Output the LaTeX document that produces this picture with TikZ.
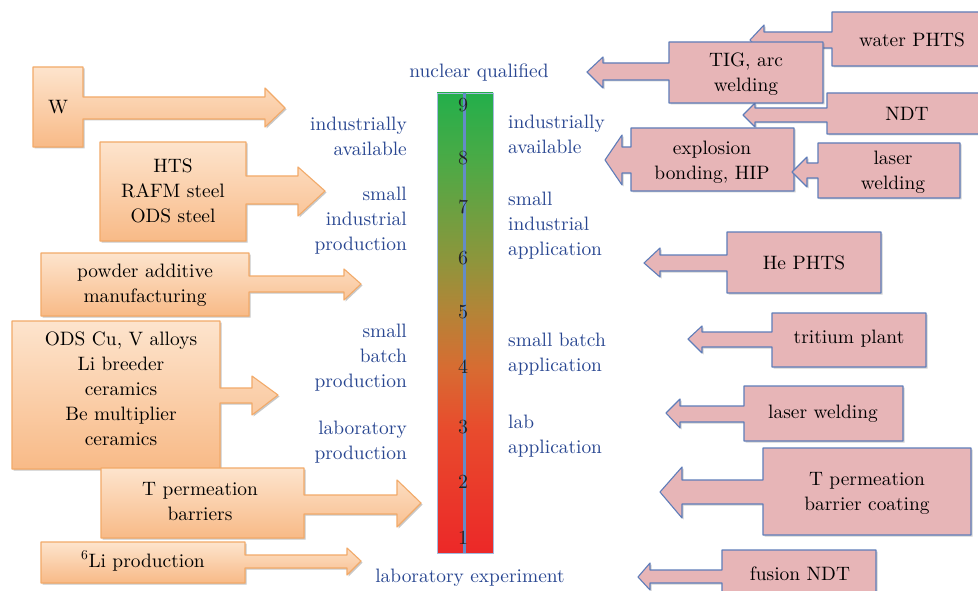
\documentclass[tikz,border=0pt]{standalone}
\usepackage{fontspec}
\setmainfont{lmroman10-regular.otf}
\usetikzlibrary{shadows}
\definecolor{lbl}{RGB}{40,70,145}
\definecolor{otop}{RGB}{253,228,205}
\definecolor{obot}{RGB}{248,186,135}
\definecolor{oedge}{RGB}{242,170,105}
\definecolor{pfill}{RGB}{231,181,183}
\definecolor{pedge}{RGB}{95,125,185}
\definecolor{bgreen}{RGB}{35,175,75}
\definecolor{beight}{RGB}{75,170,70}
\definecolor{bsix}{RGB}{140,150,60}
\definecolor{bfive}{RGB}{180,132,55}
\definecolor{bfour}{RGB}{215,108,50}
\definecolor{bthree}{RGB}{232,76,45}
\definecolor{bred}{RGB}{236,40,40}
\definecolor{barline}{RGB}{100,140,200}
\definecolor{numcol}{RGB}{35,35,35}
\pgfdeclareverticalshading{trlshade}{100bp}{color(0bp)=(bred); color(25bp)=(bred); color(38.7bp)=(bthree); color(45.2bp)=(bfour); color(51.2bp)=(bfive); color(57.1bp)=(bsix); color(67.7bp)=(beight); color(75bp)=(bgreen); color(100bp)=(bgreen)}
\tikzset{
  txt/.style={font=\fontsize{19.4}{25}\selectfont, inner sep=0pt, align=center},
  lab/.style={txt, text=lbl},
  num/.style={font=\fontsize{20}{25}\selectfont, inner sep=0pt, text=numcol},
  ocall/.style={top color=otop, bottom color=obot, draw=oedge, line width=1.1pt, line join=round,
     drop shadow={shadow xshift=1.5pt, shadow yshift=-1.5pt, opacity=0.3, fill=black!70}},
  pcall/.style={fill=pfill, draw=pedge, line width=1.1pt, line join=round,
     drop shadow={shadow xshift=1.5pt, shadow yshift=-1.5pt, opacity=0.25, fill=black!70}},
}
\begin{document}
\begin{tikzpicture}[x=1pt, y=-1pt]
\useasboundingbox (0,0) rectangle (978,591);
\fill[white] (0,0) rectangle (978,591);

% ---------- central bar ----------
\path[shading=trlshade, draw=barline!60, line width=0.6pt] (437,93) rectangle (493,553);
\coordinate (ltop) at (464,93);
\coordinate (lbot) at (464,553);
\draw[barline, line width=3pt] (ltop) -- (lbot);
\node[num] (n9) at (463,105) {9};
\node[num] (n8) at (463,158) {8};
\node[num] (n7) at (463,207) {7};
\node[num] (n6) at (463,258) {6};
\node[num] (n5) at (463,312) {5};
\node[num] (n4) at (463,367) {4};
\node[num] (n3) at (463,427) {3};
\node[num] (n2) at (463,482) {2};
\node[num] (n1) at (463,538) {1};

\node[lab] (top) at (479,73) {nuclear qualified};
\node[lab] (bottom) at (470,578) {laboratory experiment};

\node[lab, anchor=east, align=right] (l9) at (407,136) {industrially\\available};
\node[lab, anchor=east, align=right] (l7) at (407,221) {small\\industrial\\production};
\node[lab, anchor=east, align=right] (l4) at (407,358) {small\\batch\\production};
\node[lab, anchor=east, align=right] (l3) at (407,442) {laboratory\\production};

\node[lab, anchor=west, align=left] (r9) at (508,134) {industrially\\available};
\node[lab, anchor=west, align=left] (r7) at (508,226) {small\\industrial\\application};
\node[lab, anchor=west, align=left] (r4) at (508,354) {small batch\\application};
\node[lab, anchor=west, align=left] (r3) at (508,436) {lab\\application};

% ---------- orange callouts (left) ----------
\path[ocall] (33,67) -- (83,67) -- (83,97) -- (265,97) -- (265,88) -- (285,108) -- (265,127) -- (265,119) -- (83,119) -- (83,147) -- (33,147) -- cycle;
\node[txt] (w) at (58,107) {W};

\path[ocall] (100,142) -- (246,142) -- (246,176) -- (298,176) -- (298,167) -- (325,191) -- (298,216) -- (298,204) -- (246,204) -- (246,241) -- (100,241) -- cycle;
\node[txt] (hts) at (173,191) {HTS\\RAFM steel\\ODS steel};

\path[ocall] (41,253) -- (249,253) -- (249,276) -- (344,276) -- (344,269) -- (361,284) -- (344,300) -- (344,292) -- (249,292) -- (249,316) -- (41,316) -- cycle;
\node[txt] (pam) at (145,285) {powder additive\\manufacturing};

\path[ocall] (12,321) -- (220,321) -- (220,388) -- (252,388) -- (252,376) -- (278,395) -- (252,415) -- (252,403) -- (220,403) -- (220,469) -- (12,469) -- cycle;
\node[txt] (ods) at (121,389) {ODS Cu, V alloys\\Li breeder\\ceramics\\Be multiplier\\ceramics};

\path[ocall] (101,468) -- (304,468) -- (304,495) -- (397,495) -- (397,480) -- (421,503) -- (397,527) -- (397,514) -- (304,514) -- (304,538) -- (101,538) -- cycle;
\node[txt] (tpb) at (200,502) {T permeation\\barriers};

\path[ocall] (41,542) -- (245,542) -- (245,555) -- (347,555) -- (347,548) -- (361,561) -- (347,575) -- (347,568) -- (245,568) -- (245,583) -- (41,583) -- cycle;
\node[txt] (li6) at (143,561) {\textsuperscript{6}Li production};

% ---------- pink callouts (right) ----------
\path[pcall] (832,12) -- (990,12) -- (990,66) -- (832,66) -- (832,48) -- (764,48) -- (764,55) -- (750,40) -- (764,25) -- (764,32) -- (832,32) -- cycle;
\node[txt] (water) at (912,40) {water PHTS};

\path[pcall] (827,93) -- (990,93) -- (990,134) -- (827,134) -- (827,122) -- (755,122) -- (755,127) -- (743,115) -- (755,103) -- (755,108) -- (827,108) -- cycle;
\node[txt] (ndt) at (907,114) {NDT};

\path[pcall] (669,42) -- (823,42) -- (823,103) -- (669,103) -- (669,80) -- (603,80) -- (603,88) -- (587,72) -- (603,57) -- (603,63) -- (669,63) -- cycle;
\node[txt] (tig) at (746,74) {TIG, arc\\welding};

\path[pcall] (631,128) -- (794,128) -- (794,191) -- (631,191) -- (631,173) -- (622,173) -- (622,185) -- (605,160) -- (622,135) -- (622,147) -- (631,147) -- cycle;
\node[txt] (expl) at (712,162) {explosion\\bonding, HIP};

\path[pcall] (818,143) -- (960,143) -- (960,198) -- (818,198) -- (818,178) -- (807,178) -- (807,187) -- (792,172) -- (807,157) -- (807,163) -- (818,163) -- cycle;
\node[txt] (lw1) at (893,172) {laser\\welding};

\path[pcall] (727,232) -- (881,232) -- (881,293) -- (727,293) -- (727,271) -- (660,271) -- (660,277) -- (644,263) -- (660,248) -- (660,255) -- (727,255) -- cycle;
\node[txt] (he) at (804,263) {He PHTS};

\path[pcall] (772,313) -- (926,313) -- (926,367) -- (772,367) -- (772,347) -- (702,347) -- (702,353) -- (688,339) -- (702,326) -- (702,332) -- (772,332) -- cycle;
\node[txt] (trit) at (849,339) {tritium plant};

\path[pcall] (744,386) -- (903,386) -- (903,441) -- (744,441) -- (744,422) -- (680,422) -- (680,428) -- (666,413) -- (680,399) -- (680,406) -- (744,406) -- cycle;
\node[txt] (lw2) at (823,414) {laser welding};

\path[pcall] (763,448) -- (971,448) -- (971,535) -- (763,535) -- (763,504) -- (682,504) -- (682,518) -- (660,492) -- (682,467) -- (682,480) -- (763,480) -- cycle;
\node[txt] (tpc) at (867,493) {T permeation\\barrier coating};

\path[pcall] (722,550) -- (876,550) -- (876,600) -- (722,600) -- (722,583) -- (650,583) -- (650,590) -- (638,577) -- (650,563) -- (650,570) -- (722,570) -- cycle;
\node[txt] (fndt) at (800,574) {fusion NDT};
\end{tikzpicture}
\end{document}
